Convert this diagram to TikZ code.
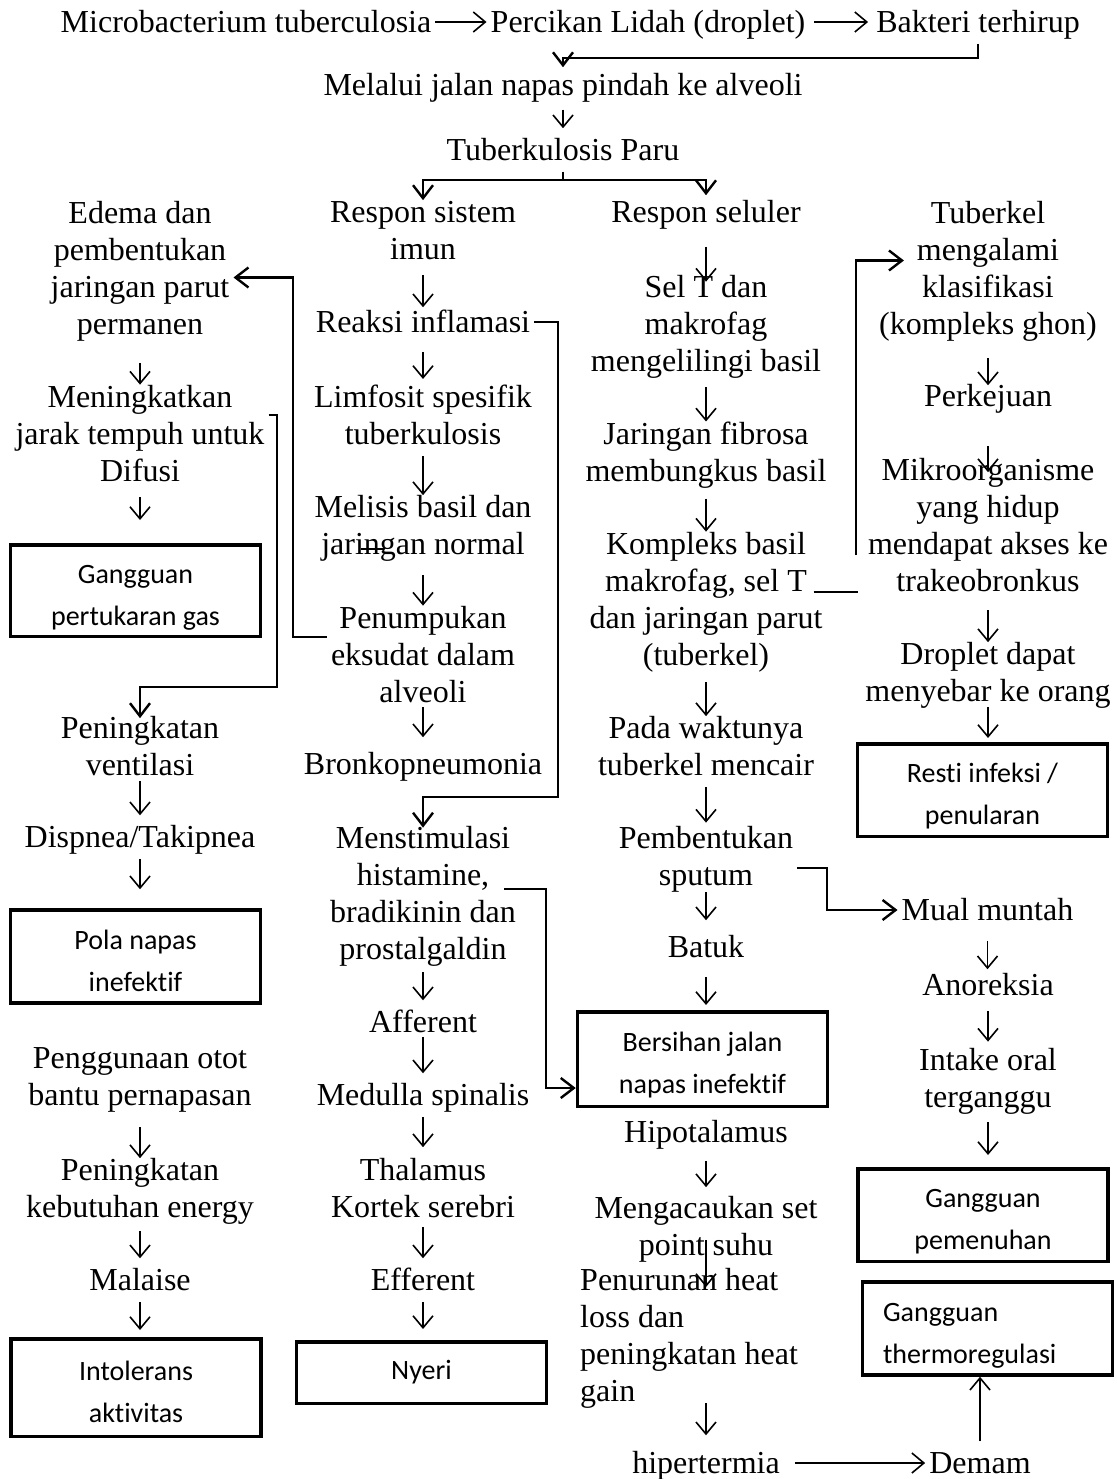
\documentclass[tikz,border=0pt]{standalone}
\usepackage{fontspec}
\setmainfont{Liberation Serif}
\newfontfamily\calibrifont[Ligatures=NoCommon]{Carlito}
\usetikzlibrary{arrows.meta}

\tikzset{
  lbl/.style={font=\fontsize{32}{37}\selectfont, align=center, inner xsep=4pt, inner ysep=0pt,
    execute at begin node=\rule[-11pt]{0pt}{43pt}, execute at end node=\strut},
  diag/.style={draw, line width=3.5pt, font=\calibrifont\fontsize{28}{42}\selectfont, align=center,
    minimum width=250pt, minimum height=93pt, inner sep=0pt},
  twoline/.style={text height=77pt, text depth=8pt},
  leftbox/.style={align=left, text width=209pt, execute at begin node=\rule{0pt}{35pt},
    execute at end node=\rule[-8pt]{0pt}{8pt}},
  arr/.style={line width=1.6pt, -{Straight Barb[length=12pt,width=20pt]}},
  conn/.style={line width=2.4pt},
  conarr/.style={conn, -{Straight Barb[length=13pt,width=20pt]}}
}

\begin{document}
\begin{tikzpicture}[x=1pt,y=-1pt]
\useasboundingbox (0,0) rectangle (1116,1479);

% top chain
\node[lbl] (micro) at (246,22) {Microbacterium tuberculosia};
\node[lbl] (perc) at (648,22) {Percikan Lidah (droplet)};
\node[lbl] (bak) at (978,22) {Bakteri terhirup};
\node[lbl] (mel) at (563,85) {Melalui jalan napas pindah ke alveoli};
\node[lbl] (tbparu) at (563,150) {Tuberkulosis Paru};

% left column
\node[lbl] (edema) at (140,273.5) {Edema dan\\pembentukan\\jaringan parut\\permanen};
\node[lbl] (mening) at (140,438.5) {Meningkatkan\\jarak tempuh untuk\\Difusi};
\node[diag, twoline, minimum height=91.5pt] (gas) at (135.5,590.5) {Gangguan\\pertukaran gas};
\node[lbl] (penvent) at (140,751.5) {Peningkatan\\ventilasi};
\node[lbl] (dispnea) at (140,837) {Dispnea/Takipnea};
\node[diag, twoline] (pola) at (135.5,956.5) {Pola napas\\inefektif};
\node[lbl] (otot) at (140,1082.5) {Penggunaan otot\\bantu pernapasan};
\node[lbl] (energi) at (140,1193.5) {Peningkatan\\kebutuhan energy};
\node[lbl] (malaise) at (140,1280) {Malaise};
\node[diag, twoline, minimum height=97.5pt] (intol) at (136,1387.5) {Intolerans\\aktivitas};

% middle column
\node[lbl] (imun) at (423,236) {Respon sistem\\imun};
\node[lbl] (reaksi) at (423,322) {Reaksi inflamasi};
\node[lbl] (limfosit) at (423,420.5) {Limfosit spesifik\\tuberkulosis};
\node[lbl] (melisis) at (423,530.5) {Melisis basil dan\\jaringan normal};
\node[lbl] (penum) at (423,659.5) {Penumpukan\\eksudat dalam\\alveoli};
\node[lbl] (bronko) at (423,764) {Bronkopneumonia};
\node[lbl] (menst) at (423,898) {Menstimulasi\\histamine,\\bradikinin dan\\prostalgaldin};
\node[lbl] (afferent) at (423,1022) {Afferent};
\node[lbl] (medulla) at (423,1095) {Medulla spinalis};
\node[lbl] (thalamus) at (423,1193.5) {Thalamus\\Kortek serebri};
\node[lbl] (efferent) at (423,1280) {Efferent};
\node[diag, minimum height=61.5pt] (nyeri) at (421.5,1372.5) {Nyeri};

% cellular column
\node[lbl] (seluler) at (706,212) {Respon seluler};
\node[lbl] (selT) at (706,328.5) {Sel T dan\\makrofag\\mengelilingi basil};
\node[lbl] (fibrosa) at (706,457) {Jaringan fibrosa\\membungkus basil};
\node[lbl] (komp) at (706,604) {Kompleks basil\\makrofag, sel T\\dan jaringan parut\\(tuberkel)};
\node[lbl] (waktu) at (706,751.5) {Pada waktunya\\tuberkel mencair};
\node[lbl] (pemb) at (706,861) {Pembentukan\\sputum};
\node[lbl] (batuk) at (706,947) {Batuk};
\node[diag, twoline, minimum height=94.5pt] (bersih) at (702.5,1059) {Bersihan jalan\\napas inefektif};
\node[lbl] (hipo) at (706,1132) {Hipotalamus};
\node[lbl] (meng) at (706,1231.5) {Mengacaukan set\\point suhu};
\node[lbl, align=left, anchor=west] (penur) at (576,1340) {Penurunan heat\\loss dan\\peningkatan heat\\gain};
\node[lbl] (hiper) at (706,1463) {hipertermia};

% right column
\node[lbl] (tuberkel) at (988,273.5) {Tuberkel\\mengalami\\klasifikasi\\(kompleks ghon)};
\node[lbl] (perkejuan) at (988,396) {Perkejuan};
\node[lbl] (mikro) at (988,530.5) {Mikroorganisme\\yang hidup\\mendapat akses ke\\trakeobronkus};
\node[lbl] (droplet) at (988,677.5) {Droplet dapat\\menyebar ke orang};
\node[diag, twoline, minimum height=92.5pt] (resti) at (982.5,790) {Resti infeksi /\\penularan};
\node[lbl] (mual) at (987.5,910) {Mual muntah};
\node[lbl] (anoreksia) at (988,985) {Anoreksia};
\node[lbl] (intake) at (988,1083) {Intake oral\\terganggu};
\node[diag, twoline, minimum height=92.5pt] (pemenuhan) at (983,1215) {Gangguan\\pemenuhan};
\node[diag, leftbox] (thermo) at (987.5,1328.5) {Gangguan\\thermoregulasi};
\node[lbl] (demam) at (980,1463) {Demam};

% bends
\coordinate (p1) at (293,637);
\coordinate (q1) at (277,415);
\coordinate (q2) at (277,687);
\coordinate (r1) at (558,797);
\coordinate (k1) at (858,592);
\coordinate (k2) at (856,555);
\coordinate (s1) at (827,868);
\coordinate (m1) at (546,889);

% top arrows
\draw[arr] (micro) -- (perc);
\draw[arr, shorten <=5pt, shorten >=4pt] (perc) -- (bak);
\draw[conarr, shorten >=-4pt] (bak.south) -- ++(0,14) -| (mel.north);
\draw[arr, shorten <=3pt] (mel) -- (tbparu);
\draw[conn] (tbparu.south) -- ++(0,8) coordinate (split);
\draw[conarr, shorten >=1pt] (split) -| (imun.north);
\draw[conarr, shorten >=-5pt] (split) -| (seluler.north);

% straight down arrows
\foreach \a/\b/\s/\e in {edema/mening/17/0, mening/gas/5/23, penvent/dispnea/-6/0, dispnea/pola/0/19,
  otot/energi/10/0, energi/malaise/2/0, malaise/intol/0/7,
  imun/reaksi/4/-7, reaksi/limfosit/8/6, limfosit/melisis/0/0, melisis/penum/9/0,
  penum/bronko/-6/5, menst/afferent/2/0, afferent/medulla/-7/0, medulla/thalamus/0/11,
  thalamus/efferent/-2/0, efferent/nyeri/0/11,
  seluler/selT/13/-7, selT/fibrosa/5/0, fibrosa/komp/6/0, komp/waktu/6/0,
  waktu/pemb/0/3, pemb/batuk/-4/5, batuk/bersih/8/5, hipo/meng/7/9,
  tuberkel/perkejuan/12/-11, perkejuan/mikro/28/-14, mikro/droplet/7/0,
  droplet/resti/-6/4, mual/anoreksia/9/-6, anoreksia/intake/4/6, intake/pemenuhan/4/12}
  \draw[arr, shorten <=\s, shorten >=\e] (\a) -- (\a |- \b.north);

% side connectors
\draw[conarr] (penum.west |- p1) -- (p1) |- ([yshift=-4pt]edema.east);
\draw[conarr, shorten >=-2pt] (mening.east |- q1) -- (q1) -- (q2) -| (penvent.north);
\draw[conarr, shorten >=-2pt] (reaksi.east) -| (r1) -| (menst.north);
\draw[conn] ([xshift=-13pt]komp.east |- k1) -- (k1);
\draw[conarr, shorten >=-29pt] (k2) |- ([yshift=13pt]tuberkel.west);
\draw[conarr] (pemb.east |- s1) -- (s1) |- (mual.west);
\draw[conarr] ([xshift=-16pt]menst.east |- m1) -- (m1) |- ([yshift=-29pt]bersih.west);
\draw[line width=1.6pt] ([xshift=-62pt,yshift=17pt]melisis.south) -- ++(23,0);

% fever path
\draw[arr, shorten <=8.5pt, shorten >=53pt] (meng.center) -- (meng.center |- penur.center);
\draw[arr, shorten <=-9pt, shorten >=6pt] (penur.south -| hiper) -- (hiper);
\draw[arr, shorten <=11pt] (hiper) -- (demam);
\draw[arr] (demam) -- (demam |- thermo.south);
\end{tikzpicture}
\end{document}
